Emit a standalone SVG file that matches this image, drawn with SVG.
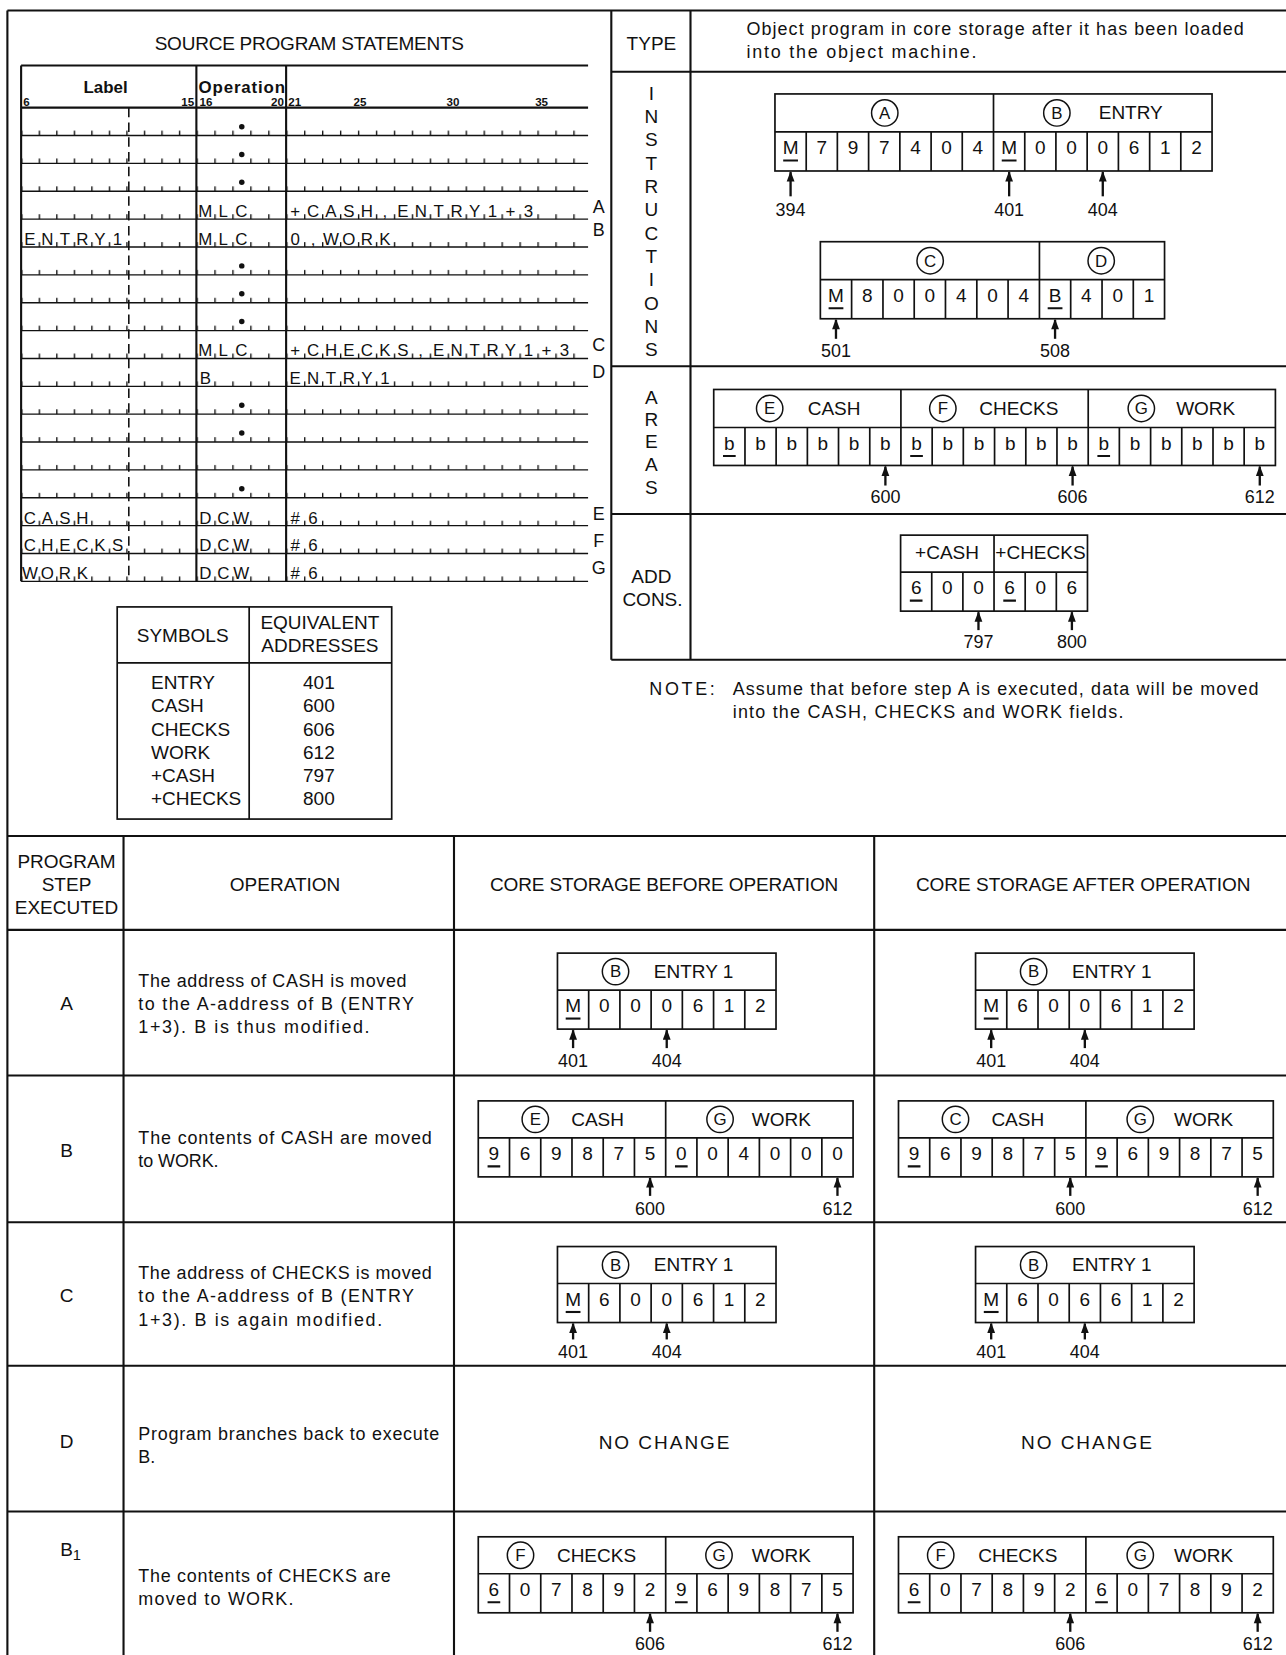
<svg xmlns="http://www.w3.org/2000/svg" width="1286" height="1655" viewBox="0 0 1286 1655">
<style>
text{font-family:"Liberation Sans",Arial,sans-serif;fill:#111}
.c{text-anchor:middle}
.h18{font-size:18px}
.f17{font-size:17px}
.ln{stroke:#111;stroke-width:2;fill:none}
.thin{stroke:#111;stroke-width:1.3;fill:none}
.fr{stroke:#111;stroke-width:1.6;fill:none}
.cl{fill:none;stroke:#111;stroke-width:1.4}
.cell{font-size:18px;text-anchor:middle}
.form{font-size:16px;text-anchor:middle}
.ul{stroke:#111;stroke-width:2;fill:none}
.ar{stroke:#111;stroke-width:2.2;fill:none;marker-end:url(#ah)}
.lbl{font-size:17px;text-anchor:middle}
.cir{font-size:16px;text-anchor:middle}
.num{font-size:11px;font-weight:bold}
</style>
<defs>
<marker id="ah" viewBox="0 0 10 8" refX="9" refY="4" markerWidth="11" markerHeight="8" orient="auto" markerUnits="userSpaceOnUse"><path d="M0,0.3 L10,4 L0,7.7z" fill="#111"/></marker>
<pattern id="tkL" patternUnits="userSpaceOnUse" x="20" y="102" width="16.6" height="26.4"><rect x="0" y="21.8" width="1.3" height="4.6" fill="#111"/></pattern>
<pattern id="tkO" patternUnits="userSpaceOnUse" x="186" y="102" width="17" height="26.4"><rect x="0" y="21.8" width="1.3" height="4.6" fill="#111"/></pattern>
<pattern id="tkR" patternUnits="userSpaceOnUse" x="271" y="102" width="17" height="26.4"><rect x="0" y="21.8" width="1.3" height="4.6" fill="#111"/></pattern>
<g id="f7"><rect class="fr" x="0" y="0" width="207" height="72"/><path class="fr" d="M0 35H207M29.57 35V72M59.14 35V72M88.71 35V72M118.29 35V72M147.86 35V72M177.43 35V72"/></g>
<g id="f12"><rect class="fr" x="0" y="0" width="355" height="72"/><path class="fr" d="M0 35H355M177.5 0V72M29.58 35V72M59.17 35V72M88.75 35V72M118.33 35V72M147.92 35V72M207.08 35V72M236.67 35V72M266.25 35V72M295.83 35V72M325.42 35V72"/></g>
</defs>
<rect x="0" y="0" width="1286" height="1655" fill="#fff"/>
<g transform="scale(1.0558,1.0555)">

<g id="frame">
<path class="ln" d="M7 10H1220M7 10V1568M7 792H1220M579 10V625M654 10V625M579 68H1220M579 347H1220M579 487H1220M579 625H1220"/>
<path class="ln" d="M117 792V1568M430 792V1568M828 792V1568M7 881H1220M7 1019H1220M7 1158H1220M7 1294H1220M7 1432H1220"/>
</g>

<g id="source-program">
<text class="h18 c" x="293" y="47" textLength="293">SOURCE PROGRAM STATEMENTS</text>
<path class="ln" d="M20 62H557M20 102H557M20 62V550.8M186 62V550.8M271 62V550.8"/>
<line x1="122" y1="102" x2="122" y2="550.8" stroke="#111" stroke-width="1.5" stroke-dasharray="9 5"/>
<path class="thin" d="M20 128.4H557M20 154.8H557M20 181.2H557M20 207.6H557M20 234H557M20 260.4H557M20 286.8H557M20 313.2H557M20 339.6H557M20 366H557M20 392.4H557M20 418.8H557M20 445.2H557M20 471.6H557M20 498H557M20 524.4H557M20 550.8H557"/>
<rect x="20" y="102" width="166" height="449" fill="url(#tkL)"/>
<rect x="186" y="102" width="85" height="449" fill="url(#tkO)"/>
<rect x="271" y="102" width="286" height="449" fill="url(#tkR)"/>
<text x="100" y="88" class="c" font-size="16" font-weight="bold">Label</text>
<text x="188" y="88" font-size="16" font-weight="bold" textLength="82">Operation</text>
<text class="num" x="22" y="100">6</text>
<text class="num" x="184" y="100" text-anchor="end">15</text>
<text class="num" x="189" y="100">16</text>
<text class="num" x="269" y="100" text-anchor="end">20</text>
<text class="num" x="273" y="100">21</text>
<text class="num c" x="341" y="100">25</text>
<text class="num c" x="429" y="100">30</text>
<text class="num c" x="513" y="100">35</text>
<g fill="#111">
<circle cx="229" cy="120" r="2.6"/><circle cx="229" cy="146.3" r="2.6"/><circle cx="229" cy="172.7" r="2.6"/>
<circle cx="229" cy="251.9" r="2.6"/><circle cx="229" cy="278.3" r="2.6"/><circle cx="229" cy="304.7" r="2.6"/>
<circle cx="229" cy="383.9" r="2.6"/><circle cx="229" cy="410.3" r="2.6"/><circle cx="229" cy="463.1" r="2.6"/>
</g>
<text class="form" x="194.5 211.5 228.5" y="205.5">MLC</text>
<text class="form" x="279.5 296.5 313.5 330.5 347.5 364.5 381.5 398.5 415.5 432.5 449.5 466.5 483.5 500.5" y="205.5">+CASH,ENTRY1+3</text>
<text class="form" x="28.3 44.9 61.5 78.1 94.7 111.3" y="232">ENTRY1</text>
<text class="form" x="194.5 211.5 228.5" y="232">MLC</text>
<text class="form" x="279.5 296.5 313.5 330.5 347.5 364.5" y="232">0,WORK</text>
<text class="form" x="194.5 211.5 228.5" y="337.5">MLC</text>
<text class="form" x="279.5 296.5 313.5 330.5 347.5 364.5 381.5 398.5 415.5 432.5 449.5 466.5 483.5 500.5 517.5 534.5" y="337.5">+CHECKS,ENTRY1+3</text>
<text class="form" x="194.5" y="364">B</text>
<text class="form" x="279.5 296.5 313.5 330.5 347.5 364.5" y="364">ENTRY1</text>
<text class="form" x="28.3 44.9 61.5 78.1" y="496">CASH</text>
<text class="form" x="194.5 211.5 228.5" y="496">DCW</text>
<text class="form" x="279.5 296.5" y="496">#6</text>
<text class="form" x="28.3 44.9 61.5 78.1 94.7 111.3" y="522.4">CHECKS</text>
<text class="form" x="194.5 211.5 228.5" y="522.4">DCW</text>
<text class="form" x="279.5 296.5" y="522.4">#6</text>
<text class="form" x="28.3 44.9 61.5 78.1" y="548.8">WORK</text>
<text class="form" x="194.5 211.5 228.5" y="548.8">DCW</text>
<text class="form" x="279.5 296.5" y="548.8">#6</text>
<g class="f17 c">
<text x="567" y="202">A</text><text x="567" y="224">B</text><text x="567" y="333">C</text><text x="567" y="358">D</text>
<text x="567" y="493">E</text><text x="567" y="518">F</text><text x="567" y="544">G</text>
</g>
</g>

<g id="symbols-table">
<rect class="fr" x="111" y="575" width="260" height="201"/>
<path class="fr" d="M236 575V776M111 628H371"/>
<text class="h18 c" x="173" y="608">SYMBOLS</text>
<text class="h18 c" x="303" y="596">EQUIVALENT</text>
<text class="h18 c" x="303" y="618">ADDRESSES</text>
<g class="h18">
<text x="143" y="653">ENTRY</text><text x="143" y="675">CASH</text><text x="143" y="697">CHECKS</text>
<text x="143" y="719">WORK</text><text x="143" y="741">+CASH</text><text x="143" y="763">+CHECKS</text>
</g>
<g class="h18 c">
<text x="302" y="653">401</text><text x="302" y="675">600</text><text x="302" y="697">606</text>
<text x="302" y="719">612</text><text x="302" y="741">797</text><text x="302" y="763">800</text>
</g>
</g>

<g id="object-program">
<text class="h18 c" x="617" y="47">TYPE</text>
<text class="f17" x="707" y="33" textLength="471">Object program in core storage after it has been loaded</text>
<text class="f17" x="707" y="55" textLength="218">into the object machine.</text>
<text class="h18 c" x="617 617 617 617 617 617 617 617 617 617 617 617" y="94.5 116.6 138.7 160.8 182.9 205 227.1 249.2 271.3 293.4 315.5 337.6">INSTRUCTIONS</text>
<text class="h18 c" x="617 617 617 617 617" y="382.5 403.5 424.5 446.5 468.5">AREAS</text>
<text class="h18 c" x="617" y="552">ADD</text>
<text class="h18 c" x="618" y="574">CONS.</text>
</g>

<g id="instr-AB">
<rect class="fr" x="734" y="89" width="414" height="73"/>
<path class="fr" d="M734 125H1148M941 89V162M763.6 125V162M793.1 125V162M822.7 125V162M852.3 125V162M881.9 125V162M911.4 125V162M970.6 125V162M1000.1 125V162M1029.7 125V162M1059.3 125V162M1088.9 125V162M1118.4 125V162"/>
<circle class="cl" cx="838" cy="107" r="12.5"/><text class="cir" x="838" y="112.5">A</text>
<circle class="cl" cx="1001" cy="107" r="12.5"/><text class="cir" x="1001" y="112.5">B</text>
<text class="h18 c" x="1071" y="113">ENTRY</text>
<text class="cell" x="748.8 778.4 807.9 837.5 867.1 896.6 926.2 955.8 985.4 1014.9 1044.5 1074.1 1103.6 1133.2" y="146">M797404M000612</text>
<path class="ul" d="M741.8 152H755.8M948.8 152H962.8"/>
<text class="lbl" x="748.8" y="205">394</text><text class="lbl" x="955.8" y="205">401</text><text class="lbl" x="1044.5" y="205">404</text>
</g>

<g id="instr-CD">
<rect class="fr" x="777" y="229" width="326" height="73"/>
<path class="fr" d="M777 265H1103M984.5 229V302M806.6 265V302M836.3 265V302M865.9 265V302M895.5 265V302M925.2 265V302M954.8 265V302M1014.1 265V302M1043.8 265V302M1073.4 265V302"/>
<circle class="cl" cx="881" cy="247" r="12.5"/><text class="cir" x="881" y="252.5">C</text>
<circle class="cl" cx="1043" cy="247" r="12.5"/><text class="cir" x="1043" y="252.5">D</text>
<text class="cell" x="791.8 821.5 851.1 880.7 910.4 940 969.7 999.3 1029 1058.6 1088.2" y="286">M800404B401</text>
<path class="ul" d="M784.8 292H798.8M992.3 292H1006.3"/>
<text class="lbl" x="791.8" y="338">501</text><text class="lbl" x="999.3" y="338">508</text>
</g>

<g id="areas">
<rect class="fr" x="676" y="369" width="532" height="72"/>
<path class="fr" d="M676 405H1208M853.3 369V441M1030.7 369V441M705.6 405V441M735.1 405V441M764.7 405V441M794.2 405V441M823.8 405V441M882.9 405V441M912.4 405V441M942 405V441M971.6 405V441M1001.1 405V441M1060.2 405V441M1089.8 405V441M1119.3 405V441M1148.9 405V441M1178.4 405V441"/>
<circle class="cl" cx="729" cy="387" r="12.5"/><text class="cir" x="729" y="392.5">E</text>
<text class="h18 c" x="790" y="393">CASH</text>
<circle class="cl" cx="893" cy="387" r="12.5"/><text class="cir" x="893" y="392.5">F</text>
<text class="h18 c" x="965" y="393">CHECKS</text>
<circle class="cl" cx="1081" cy="387" r="12.5"/><text class="cir" x="1081" y="392.5">G</text>
<text class="h18 c" x="1142" y="393">WORK</text>
<text class="cell" x="690.8 720.3 749.9 779.4 809 838.6 868.1 897.7 927.2 956.8 986.3 1015.9 1045.4 1075 1104.6 1134.1 1163.7 1193.2" y="426">bbbbbbbbbbbbbbbbbb</text>
<path class="ul" d="M684.8 432H696.8M862.1 432H874.1M1039.4 432H1051.4"/>
<text class="lbl" x="838.6" y="477">600</text><text class="lbl" x="1015.9" y="477">606</text><text class="lbl" x="1193.2" y="477">612</text>
</g>

<g id="add-cons">
<rect class="fr" x="853" y="507" width="177" height="72"/>
<path class="fr" d="M853 542H1030M941.5 507V579M882.5 542V579M912 542V579M971 542V579M1000.5 542V579"/>
<text class="h18 c" x="897" y="530">+CASH</text>
<text class="h18 c" x="985.5" y="530">+CHECKS</text>
<text class="cell" x="867.75 897.25 926.75 956.25 985.75 1015.25" y="563">600606</text>
<path class="ul" d="M861.75 569H873.75M950.25 569H962.25"/>
<text class="lbl" x="926.75" y="614">797</text><text class="lbl" x="1015.25" y="614">800</text>
</g>

<g id="note">
<text class="f17" x="615" y="658" textLength="62">NOTE:</text>
<text class="f17" x="694" y="658" textLength="498">Assume that before step A is executed, data will be moved</text>
<text class="f17" x="694" y="680" textLength="370">into the CASH, CHECKS and WORK fields.</text>
</g>

<g id="table-header">
<text class="h18 c" x="63" y="822">PROGRAM</text>
<text class="h18 c" x="63" y="844">STEP</text>
<text class="h18 c" x="63" y="866">EXECUTED</text>
<text class="h18 c" x="270" y="844">OPERATION</text>
<text class="h18 c" x="629" y="844" textLength="330">CORE STORAGE BEFORE OPERATION</text>
<text class="h18 c" x="1026" y="844" textLength="317">CORE STORAGE AFTER OPERATION</text>
</g>

<g id="step-A">
<text class="h18 c" x="63" y="957">A</text>
<text class="f17" x="131" y="935" textLength="254">The address of CASH is moved</text>
<text class="f17" x="131" y="957" textLength="261">to the A-address of B (ENTRY</text>
<text class="f17" x="131" y="979" textLength="219">1+3). B is thus modified.</text>
<use href="#f7" x="528" y="903"/>
<circle class="cl" cx="583" cy="920.5" r="12.5"/><text class="cir" x="583" y="926">B</text>
<text class="h18 c" x="657" y="926.5">ENTRY 1</text>
<text class="cell" x="542.8 572.4 601.9 631.5 661.1 690.6 720.2" y="959">M000612</text>
<path class="ul" d="M535.8 965H549.8"/>
<text class="lbl" x="542.8" y="1011">401</text><text class="lbl" x="631.5" y="1011">404</text>
<use href="#f7" x="924" y="903"/>
<circle class="cl" cx="979" cy="920.5" r="12.5"/><text class="cir" x="979" y="926">B</text>
<text class="h18 c" x="1053" y="926.5">ENTRY 1</text>
<text class="cell" x="938.8 968.4 997.9 1027.5 1057.1 1086.6 1116.2" y="959">M600612</text>
<path class="ul" d="M931.8 965H945.8"/>
<text class="lbl" x="938.8" y="1011">401</text><text class="lbl" x="1027.5" y="1011">404</text>
</g>

<g id="step-B">
<text class="h18 c" x="63" y="1096">B</text>
<text class="f17" x="131" y="1084" textLength="278">The contents of CASH are moved</text>
<text class="f17" x="131" y="1106" textLength="76">to WORK.</text>
<use href="#f12" x="453" y="1043"/>
<circle class="cl" cx="507" cy="1060.5" r="12.5"/><text class="cir" x="507" y="1066">E</text>
<text class="h18 c" x="566" y="1066.5">CASH</text>
<circle class="cl" cx="682" cy="1060.5" r="12.5"/><text class="cir" x="682" y="1066">G</text>
<text class="h18 c" x="740" y="1066.5">WORK</text>
<text class="cell" x="467.8 497.4 527 556.5 586.1 615.7 645.3 674.9 704.5 734 763.6 793.2" y="1099">969875004000</text>
<path class="ul" d="M461.8 1105H473.8M639.3 1105H651.3"/>
<text class="lbl" x="615.7" y="1151">600</text><text class="lbl" x="793.2" y="1151">612</text>
<use href="#f12" x="851" y="1043"/>
<circle class="cl" cx="905" cy="1060.5" r="12.5"/><text class="cir" x="905" y="1066">C</text>
<text class="h18 c" x="964" y="1066.5">CASH</text>
<circle class="cl" cx="1080" cy="1060.5" r="12.5"/><text class="cir" x="1080" y="1066">G</text>
<text class="h18 c" x="1140" y="1066.5">WORK</text>
<text class="cell" x="865.8 895.4 925 954.5 984.1 1013.7 1043.3 1072.9 1102.5 1132 1161.6 1191.2" y="1099">969875969875</text>
<path class="ul" d="M859.8 1105H871.8M1037.3 1105H1049.3"/>
<text class="lbl" x="1013.7" y="1151">600</text><text class="lbl" x="1191.2" y="1151">612</text>
</g>

<g id="step-C">
<text class="h18 c" x="63" y="1234">C</text>
<text class="f17" x="131" y="1212" textLength="278">The address of CHECKS is moved</text>
<text class="f17" x="131" y="1234" textLength="261">to the A-address of B (ENTRY</text>
<text class="f17" x="131" y="1256" textLength="231">1+3). B is again modified.</text>
<use href="#f7" x="528" y="1181"/>
<circle class="cl" cx="583" cy="1198.5" r="12.5"/><text class="cir" x="583" y="1204">B</text>
<text class="h18 c" x="657" y="1204.5">ENTRY 1</text>
<text class="cell" x="542.8 572.4 601.9 631.5 661.1 690.6 720.2" y="1237">M600612</text>
<path class="ul" d="M535.8 1243H549.8"/>
<text class="lbl" x="542.8" y="1287">401</text><text class="lbl" x="631.5" y="1287">404</text>
<use href="#f7" x="924" y="1181"/>
<circle class="cl" cx="979" cy="1198.5" r="12.5"/><text class="cir" x="979" y="1204">B</text>
<text class="h18 c" x="1053" y="1204.5">ENTRY 1</text>
<text class="cell" x="938.8 968.4 997.9 1027.5 1057.1 1086.6 1116.2" y="1237">M606612</text>
<path class="ul" d="M931.8 1243H945.8"/>
<text class="lbl" x="938.8" y="1287">401</text><text class="lbl" x="1027.5" y="1287">404</text>
</g>

<g id="step-D">
<text class="h18 c" x="63" y="1372">D</text>
<text class="f17" x="131" y="1364" textLength="285">Program branches back to execute</text>
<text class="f17" x="131" y="1386">B.</text>
<text class="h18 c" x="629" y="1373" textLength="124">NO CHANGE</text>
<text class="h18 c" x="1029" y="1373" textLength="124">NO CHANGE</text>
</g>

<g id="step-B1">
<text class="h18" x="57" y="1474">B<tspan font-size="14" dy="4">1</tspan></text>
<text class="f17" x="131" y="1499" textLength="239">The contents of CHECKS are</text>
<text class="f17" x="131" y="1521" textLength="147">moved to WORK.</text>
<use href="#f12" x="453" y="1456"/>
<circle class="cl" cx="493" cy="1473.5" r="12.5"/><text class="cir" x="493" y="1479">F</text>
<text class="h18 c" x="565" y="1479.5">CHECKS</text>
<circle class="cl" cx="681" cy="1473.5" r="12.5"/><text class="cir" x="681" y="1479">G</text>
<text class="h18 c" x="740" y="1479.5">WORK</text>
<text class="cell" x="467.8 497.4 527 556.5 586.1 615.7 645.3 674.9 704.5 734 763.6 793.2" y="1512">607892969875</text>
<path class="ul" d="M461.8 1518H473.8M639.3 1518H651.3"/>
<text class="lbl" x="615.7" y="1563">606</text><text class="lbl" x="793.2" y="1563">612</text>
<use href="#f12" x="851" y="1456"/>
<circle class="cl" cx="891" cy="1473.5" r="12.5"/><text class="cir" x="891" y="1479">F</text>
<text class="h18 c" x="964" y="1479.5">CHECKS</text>
<circle class="cl" cx="1080" cy="1473.5" r="12.5"/><text class="cir" x="1080" y="1479">G</text>
<text class="h18 c" x="1140" y="1479.5">WORK</text>
<text class="cell" x="865.8 895.4 925 954.5 984.1 1013.7 1043.3 1072.9 1102.5 1132 1161.6 1191.2" y="1512">607892607892</text>
<path class="ul" d="M859.8 1518H871.8M1037.3 1518H1049.3"/>
<text class="lbl" x="1013.7" y="1563">606</text><text class="lbl" x="1191.2" y="1563">612</text>
</g>

<g id="connectors">
<line class="ar" x1="748.8" y1="186" x2="748.8" y2="163"/>
<line class="ar" x1="955.8" y1="186" x2="955.8" y2="163"/>
<line class="ar" x1="1044.5" y1="186" x2="1044.5" y2="163"/>
<line class="ar" x1="791.8" y1="321" x2="791.8" y2="303"/>
<line class="ar" x1="999.3" y1="321" x2="999.3" y2="303"/>
<line class="ar" x1="838.6" y1="460" x2="838.6" y2="442"/>
<line class="ar" x1="1015.9" y1="460" x2="1015.9" y2="442"/>
<line class="ar" x1="1193.2" y1="460" x2="1193.2" y2="442"/>
<line class="ar" x1="926.75" y1="597" x2="926.75" y2="580"/>
<line class="ar" x1="1015.25" y1="597" x2="1015.25" y2="580"/>
<line class="ar" x1="542.8" y1="993" x2="542.8" y2="976"/>
<line class="ar" x1="631.5" y1="993" x2="631.5" y2="976"/>
<line class="ar" x1="938.8" y1="993" x2="938.8" y2="976"/>
<line class="ar" x1="1027.5" y1="993" x2="1027.5" y2="976"/>
<line class="ar" x1="615.7" y1="1133" x2="615.7" y2="1116"/>
<line class="ar" x1="793.2" y1="1133" x2="793.2" y2="1116"/>
<line class="ar" x1="1013.7" y1="1133" x2="1013.7" y2="1116"/>
<line class="ar" x1="1191.2" y1="1133" x2="1191.2" y2="1116"/>
<line class="ar" x1="542.8" y1="1269" x2="542.8" y2="1254"/>
<line class="ar" x1="631.5" y1="1269" x2="631.5" y2="1254"/>
<line class="ar" x1="938.8" y1="1269" x2="938.8" y2="1254"/>
<line class="ar" x1="1027.5" y1="1269" x2="1027.5" y2="1254"/>
<line class="ar" x1="615.7" y1="1546" x2="615.7" y2="1529"/>
<line class="ar" x1="793.2" y1="1546" x2="793.2" y2="1529"/>
<line class="ar" x1="1013.7" y1="1546" x2="1013.7" y2="1529"/>
<line class="ar" x1="1191.2" y1="1546" x2="1191.2" y2="1529"/>
</g>
</g>
</svg>
